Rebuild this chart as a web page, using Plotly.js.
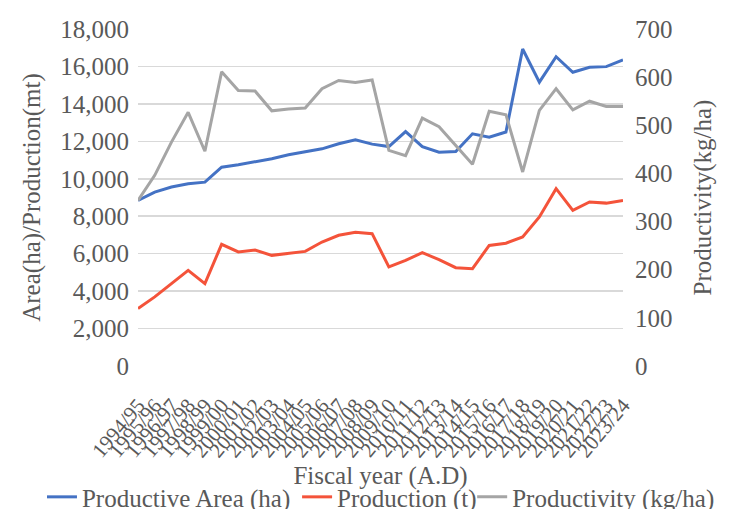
<!DOCTYPE html>
<html>
<head>
<meta charset="utf-8">
<script src="https://cdn.plot.ly/plotly-3.0.1.min.js"></script>
<style>html,body{margin:0;padding:0;background:#fff;}#chart{width:729px;height:509px;}</style>
</head>
<body>
<div id="chart"></div>
<script>
const years = ["1994/95","1995/96","1996/97","1997/98","1998/99","1999/00","2000/01","2001/02","2002/03","2003/04","2004/05","2005/06","2006/07","2007/08","2008/09","2009/10","2010/11","2011/12","2012/13","2013/14","2014/15","2015/16","2016/17","2017/18","2018/19","2019/20","2020/21","2021/22","2022/23","2023/24"];
const productiveArea = [8850, 9290, 9560, 9730, 9820, 10620, 10750, 10900, 11070, 11280, 11420, 11600, 11870, 12080, 11850, 11720, 12520, 11720, 11420, 11460, 12400, 12220, 12500, 16930, 15160, 16520, 15690, 15960, 15990, 16350];
const production = [3070, 3690, 4400, 5110, 4400, 6500, 6090, 6190, 5910, 6000, 6120, 6620, 6980, 7140, 7070, 5290, 5640, 6050, 5680, 5250, 5200, 6440, 6560, 6890, 7960, 9470, 8310, 8760, 8700, 8840];
const productivity = [344, 396, 465, 527, 446, 611, 572, 571, 530, 534, 536, 576, 593, 589, 594, 448, 437, 515, 497, 458, 419, 529, 522, 403, 531, 576, 532, 550, 539, 539];
const seriesNames = ["Productive Area (ha)", "Production (t)", "Productivity (kg/ha)"];

const FONT = "'Liberation Serif', 'Times New Roman', serif";
const GREY = "#595959";
const FS = 25;

const traces = [
  {x: years, y: productiveArea, name: seriesNames[0], type: "scatter", mode: "lines",
   line: {color: "#4472c4", width: 3}, legend: "legend"},
  {x: years, y: production, name: seriesNames[1], type: "scatter", mode: "lines",
   line: {color: "#f4533a", width: 3}, legend: "legend2"},
  {x: years, y: productivity, name: seriesNames[2], type: "scatter", mode: "lines",
   line: {color: "#a5a5a5", width: 3}, yaxis: "y2", legend: "legend3"}
];

const legendBase = {orientation: "h", yanchor: "middle", y: -0.389, xanchor: "left",
  font: {family: FONT, size: FS, color: GREY}, bgcolor: "rgba(0,0,0,0)", itemwidth: 30};

const layout = {
  width: 729, height: 509,
  margin: {l: 138, r: 106, t: 29, b: 143, autoexpand: false},
  paper_bgcolor: "#fff", plot_bgcolor: "#fff",
  font: {family: FONT, size: FS, color: GREY},
  showlegend: true,
  xaxis: {
    type: "category", tickmode: "array", tickvals: years, ticktext: years,
    tickangle: -50, tickfont: {family: FONT, size: 21, color: GREY},
    showgrid: false, zeroline: false, showline: false, ticks: "",
    ticklabelstandoff: 22,
    title: {text: "Fiscal year (A.D)", font: {family: FONT, size: FS, color: GREY}, standoff: 0},
    automargin: false
  },
  yaxis: {
    range: [0, 18000], dtick: 2000, tickformat: ",d",
    tickfont: {family: FONT, size: FS, color: GREY},
    showgrid: true, gridcolor: "#d9d9d9", gridwidth: 1.5, zeroline: false, showline: false,
    ticklabelstandoff: 8,
    title: {text: "Area(ha)/Production(mt)", font: {family: FONT, size: FS, color: GREY}, standoff: 12},
    automargin: false
  },
  yaxis2: {
    overlaying: "y", side: "right", range: [0, 700], dtick: 100,
    tickfont: {family: FONT, size: FS, color: GREY},
    showgrid: false, zeroline: false, showline: false,
    ticklabelstandoff: 11,
    title: {text: "Productivity(kg/ha)", font: {family: FONT, size: FS, color: GREY}, standoff: 21},
    automargin: false
  },
  legend: Object.assign({}, legendBase, {x: -0.198}),
  legend2: Object.assign({}, legendBase, {x: 0.328}),
  legend3: Object.assign({}, legendBase, {x: 0.689})
};

Plotly.newPlot("chart", traces, layout, {displayModeBar: false, staticPlot: true});
</script>
</body>
</html>
